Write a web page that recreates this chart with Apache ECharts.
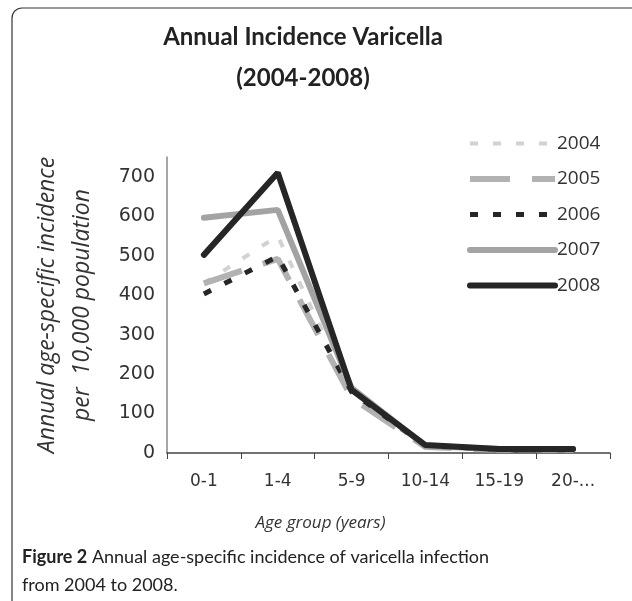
<!DOCTYPE html>
<html>
<head>
<meta charset="utf-8">
<script src="https://cdn.jsdelivr.net/npm/echarts@6/dist/echarts.min.js"></script>
<style>
  html, body { margin: 0; padding: 0; background: #fff; }
  #chart { width: 632px; height: 601px; }
</style>
</head>
<body>
<div id="chart"></div>
<script>
const ageGroups = ["0-1", "1-4", "5-9", "10-14", "15-19", "20-..."];
const y2004 = [430, 550, 150, 15, 8, 8];
const y2005 = [430, 492, 140, 15, 8, 8];
const y2006 = [403, 498, 155, 18, 8, 8];
const y2007 = [596, 616, 165, 18, 10, 10];
const y2008 = [502, 710, 160, 20, 10, 10];

const font = "Open Sans";
const tickFont = "DejaVu Sans";
const titleFont = "Lato";
const chart = echarts.init(document.getElementById("chart"));

function line(name, data, color, width, type, cap) {
  return {
    name: name,
    type: "line",
    data: data,
    symbol: "none",
    lineStyle: { color: color, width: width, type: type, cap: cap },
    itemStyle: { color: color },
  };
}

const option = {
  animation: false,
  textStyle: { fontFamily: font },
  title: {
    text: "Annual Incidence Varicella\n(2004-2008)",
    left: 298,
    top: 12,
    textAlign: "center",
    textStyle: {
      fontFamily: titleFont,
      fontSize: 24,
      fontWeight: "bold",
      color: "#222",
      lineHeight: 41,
    },
  },
  legend: {
    orient: "vertical",
    left: 462,
    top: 129,
    itemWidth: 85,
    itemHeight: 20,
    itemGap: 16.5,
    itemStyle: { opacity: 0 },
    lineStyle: { width: "inherit" },
    textStyle: { fontSize: 19, color: "#333", padding: [0, 0, 0, -3] },
    data: ["2004", "2005", "2006", "2007", "2008"],
  },
  grid: { left: 167, right: 22, top: 157, bottom: 148 },
  xAxis: {
    type: "category",
    data: ageGroups,
    boundaryGap: true,
    name: "Age group (years)",
    nameLocation: "middle",
    nameGap: 62,
    nameTextStyle: {
      fontStyle: "italic",
      fontSize: 17,
      color: "#333",
      padding: [0, 136, 0, 0],
    },
    axisLine: { lineStyle: { color: "#444", width: 1.5 } },
    axisTick: { show: true, length: 6, lineStyle: { color: "#444" } },
    axisLabel: { fontFamily: tickFont, fontSize: 17, color: "#333", margin: 20 },
  },
  yAxis: {
    type: "value",
    min: 0,
    max: 750,
    interval: 100,
    name: "Annual age-specific incidence\nper  10,000 population",
    nameLocation: "middle",
    nameGap: 67,
    nameRotate: 90,
    nameTextStyle: { fontStyle: "italic", fontSize: 23, color: "#333", lineHeight: 35 },
    axisLine: { show: true, lineStyle: { color: "#888", width: 1.5 } },
    axisTick: { show: false },
    splitLine: { show: false },
    axisLabel: { fontFamily: tickFont, fontSize: 19, color: "#333", margin: 12, showMaxLabel: false },
  },
  series: [
    line("2004", y2004, "#d2d2d2", 4, [8, 15], "butt"),
    line("2005", y2005, "#b2b2b2", 6, [40, 22], "butt"),
    line("2006", y2006, "#262626", 5, [8, 15], "butt"),
    line("2007", y2007, "#a3a3a3", 6, "solid", "round"),
    line("2008", y2008, "#262626", 6, "solid", "round"),
  ],
  graphic: [
    {
      type: "rect",
      shape: { x: 12, y: 8, width: 700, height: 700, r: 10 },
      style: { fill: "none", stroke: "#333", lineWidth: 1.2 },
      silent: true,
    },
    {
      type: "text",
      left: 22,
      top: 543,
      style: {
        text: "{b|Figure 2} Annual age-specific incidence of varicella infection\nfrom 2004 to 2008.",
        font: "18px " + titleFont,
        fill: "#222",
        lineHeight: 28,
        rich: { b: { fontWeight: "bold", fontSize: 18, fontFamily: titleFont, fill: "#222" } },
      },
    },
  ],
};

chart.setOption(option);
window.addEventListener("resize", () => chart.resize());
</script>
</body>
</html>
